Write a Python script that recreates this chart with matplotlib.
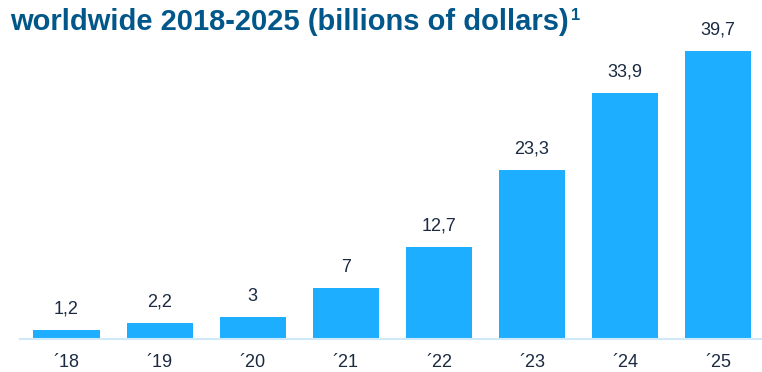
import matplotlib.pyplot as plt

plt.rcParams['font.family'] = ['Liberation Sans', 'DejaVu Sans']

years = ['\u00b418', '\u00b419', '\u00b420', '\u00b421', '\u00b422', '\u00b423', '\u00b424', '\u00b425']
values = [1.2, 2.2, 3, 7, 12.7, 23.3, 33.9, 39.7]
labels = ['1,2', '2,2', '3', '7', '12,7', '23,3', '33,9', '39,7']

bar_color = '#1eaeff'
text_color = '#1b2a41'
title_color = '#02578a'

fig = plt.figure(figsize=(7.62, 3.72), dpi=100)
ax = fig.add_axes([20 / 762, 1 - 339 / 372, 742 / 762, 339 / 372])

x = range(len(values))
bars = ax.bar(x, values, width=0.71, color=bar_color)
for b, lab in zip(bars, labels):
    ax.text(b.get_x() + b.get_width() / 2, b.get_height() + 1.7, lab,
            ha='center', va='bottom', fontsize=13, color=text_color)

ax.set_xlim(-0.5, 7.47)
ax.set_ylim(0, 339 / 7.25)
ax.set_xticks(list(x))
ax.set_xticklabels(years, fontsize=13, color=text_color)
ax.tick_params(axis='x', length=0, pad=10.5)
ax.set_yticks([])
for side in ['top', 'right', 'left']:
    ax.spines[side].set_visible(False)
ax.spines['bottom'].set_color('#cfe9fb')
ax.spines['bottom'].set_linewidth(1.5)

fig.text(10 / 762, 1 - 30 / 372, 'worldwide 2018-2025 (billions of dollars)',
         fontsize=21, fontweight='bold', color=title_color, ha='left', va='baseline')
fig.text(571 / 762, 1 - 20 / 372, '1',
         fontsize=12, fontweight='bold', color=title_color, ha='left', va='baseline')

fig.savefig('out.png', dpi=100)
